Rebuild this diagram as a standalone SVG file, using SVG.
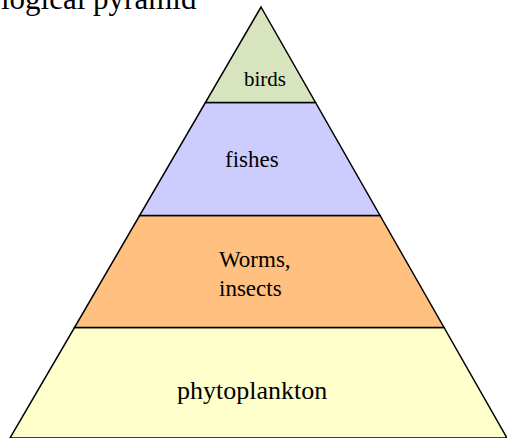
<svg xmlns="http://www.w3.org/2000/svg" width="507" height="438" viewBox="0 0 507 438">
<style>
.layer{stroke:#000;stroke-width:1.5;stroke-linejoin:miter}
.lbl{font-family:"Liberation Serif","Times New Roman",serif;fill:#000}
</style>
<rect width="507" height="438" fill="#fff"/>
<text class="lbl" x="1" y="9" font-size="31">logical pyramid</text>
<g id="phytoplankton">
<polygon class="layer" points="74.5,327.5 444,327.5 507,438 10,438" fill="#FFFFCC"/>
<text class="lbl" x="177" y="399" font-size="26">phytoplankton</text>
</g>
<g id="worms">
<polygon class="layer" points="139.6,215.5 380,215.5 444,327.5 74.5,327.5" fill="#FFC080"/>
<text class="lbl" x="219" y="267" font-size="23">Worms,</text>
<text class="lbl" x="219" y="296" font-size="23">insects</text>
</g>
<g id="fishes">
<polygon class="layer" points="205.4,102.5 315.5,102.5 380,215.5 139.6,215.5" fill="#CCCCFF"/>
<text class="lbl" x="225" y="167" font-size="23">fishes</text>
</g>
<g id="birds">
<polygon class="layer" points="261,7 315.5,102.5 205.4,102.5" fill="#D7E4BD"/>
<text class="lbl" x="244" y="86" font-size="21">birds</text>
</g>
</svg>
